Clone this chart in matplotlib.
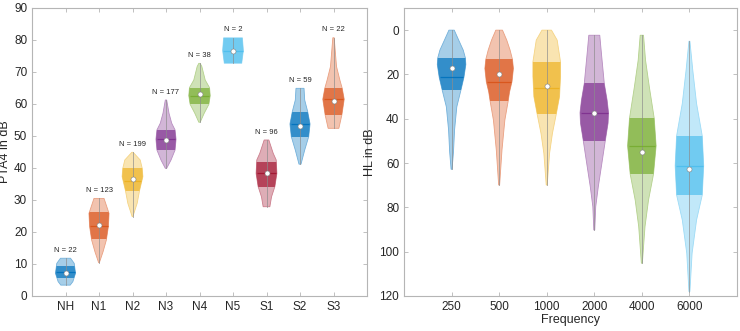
import numpy as np
import matplotlib
matplotlib.use("Agg")
import matplotlib.pyplot as plt
from matplotlib.patches import Polygon, Rectangle

plt.rcParams['font.family'] = ['Liberation Sans', 'DejaVu Sans']

# matlab default colour order
c_blue = '#0072BD'
c_orange = '#D95319'
c_yellow = '#EDB120'
c_purple = '#7E2F8E'
c_green = '#77AC30'
c_lblue = '#4DBEEE'
c_red = '#A2142F'

# ---- left panel: PTA4 per group ----
groups = ['NH', 'N1', 'N2', 'N3', 'N4', 'N5', 'S1', 'S2', 'S3']
group_n = [22, 123, 199, 177, 38, 2, 96, 59, 22]
group_colors = [c_blue, c_orange, c_yellow, c_purple, c_green, c_lblue, c_red, c_blue, c_orange]
group_q1 = [5.5, 17.8, 32.9, 45.6, 59.9, 72.7, 34.2, 49.8, 56.6]
group_median = [7.5, 21.9, 36.0, 49.0, 62.6, 76.7, 38.3, 53.75, 61.5]
group_q3 = [9.4, 26.2, 39.9, 51.9, 65.1, 80.7, 42.0, 57.6, 64.9]
group_mean = [7.1, 22.3, 36.7, 48.7, 63.1, 76.6, 38.3, 53.1, 61.0]
# violin outlines: levels (dB) and half widths
group_levels = [
    [3.4, 4.5, 7.1, 10.2, 11.8],
    [10.4, 13.8, 17.5, 21.7, 25.8, 30.5],
    [24.8, 29.0, 32.9, 37.3, 39.9, 42.5, 44.9],
    [39.9, 42.5, 45.6, 49.0, 51.9, 54.0, 57.1, 61.25],
    [54.3, 57.1, 59.9, 62.6, 65.1, 67.5, 71.7, 72.7],
    [72.7, 76.7, 80.7],
    [27.9, 31.0, 34.2, 38.3, 42.5, 44.6, 48.75],
    [41.2, 45.6, 49.8, 53.75, 57.6, 61.25, 64.9],
    [52.4, 56.6, 61.5, 64.9, 67.5, 71.7, 80.7],
]
group_widths = [
    [0.14, 0.22, 0.30, 0.26, 0.15],
    [0.01, 0.12, 0.22, 0.28, 0.30, 0.15],
    [0.01, 0.14, 0.21, 0.31, 0.29, 0.23, 0.02],
    [0.02, 0.15, 0.27, 0.30, 0.27, 0.17, 0.09, 0.02],
    [0.02, 0.14, 0.28, 0.32, 0.30, 0.17, 0.07, 0.02],
    [0.26, 0.31, 0.28],
    [0.10, 0.15, 0.25, 0.31, 0.29, 0.20, 0.07],
    [0.03, 0.14, 0.26, 0.30, 0.23, 0.14, 0.12],
    [0.16, 0.25, 0.32, 0.26, 0.19, 0.09, 0.02],
]

# ---- right panel: HL per frequency ----
freqs = ['250', '500', '1000', '2000', '4000', '6000']
freq_colors = [c_blue, c_orange, c_yellow, c_purple, c_green, c_lblue]
freq_q1 = [12.5, 13.2, 14.3, 24.0, 39.8, 47.8]
freq_median = [21.3, 23.3, 25.9, 37.3, 52.2, 61.2]
freq_q3 = [26.8, 32.0, 38.0, 50.1, 65.0, 74.4]
freq_mean = [17.3, 19.8, 25.0, 37.6, 55.2, 62.6]
freq_levels = [
    [0, 4.5, 9.0, 12.5, 15.5, 21.3, 26.8, 34.6, 45.0, 55.0, 62.8],
    [0, 4.5, 9.0, 13.2, 17.3, 23.3, 27.8, 32.0, 40.6, 54.0, 69.9],
    [0, 4.5, 14.3, 21.0, 30.0, 38.0, 46.6, 55.6, 69.9],
    [2.3, 10.5, 24.0, 31.6, 37.3, 42.0, 50.1, 58.6, 70.7, 79.7, 90.2],
    [2.3, 13.5, 25.6, 39.8, 52.2, 65.0, 76.7, 88.7, 105.2],
    [5.0, 18.0, 33.1, 47.8, 61.2, 74.4, 85.7, 100.7, 118.0],
]
freq_widths = [
    [0.056, 0.15, 0.245, 0.29, 0.30, 0.26, 0.20, 0.11, 0.063, 0.04, 0.01],
    [0.07, 0.16, 0.23, 0.28, 0.30, 0.27, 0.22, 0.19, 0.12, 0.06, 0.01],
    [0.10, 0.22, 0.29, 0.29, 0.27, 0.20, 0.12, 0.06, 0.01],
    [0.115, 0.15, 0.21, 0.27, 0.30, 0.29, 0.23, 0.17, 0.084, 0.03, 0.01],
    [0.035, 0.077, 0.157, 0.26, 0.30, 0.245, 0.14, 0.066, 0.01],
    [0.01, 0.07, 0.15, 0.27, 0.30, 0.27, 0.15, 0.056, 0.01],
]


def light(col, a):
    rgb = np.array(matplotlib.colors.to_rgb(col))
    return tuple(1 - a * (1 - rgb))


def violin(ax, pos, levels, widths, q1, med, q3, mean, col):
    lv = np.array(levels, dtype=float)
    hw = np.array(widths, dtype=float)
    verts = np.vstack([np.column_stack([pos + hw, lv]),
                       np.column_stack([pos - hw[::-1], lv[::-1]])])
    ax.add_patch(Polygon(verts, closed=True, facecolor=light(col, 0.35),
                         edgecolor=light(col, 0.55), lw=0.6, zorder=2))
    inner = Polygon(verts, closed=True, facecolor=light(col, 0.8),
                    edgecolor='none', zorder=3)
    ax.add_patch(inner)
    clip = Rectangle((pos - 1, q1), 2, q3 - q1, transform=ax.transData)
    inner.set_clip_path(clip)
    # whisker line over the full range
    ax.plot([pos, pos], [lv.min(), lv.max()], color=(0.55, 0.55, 0.55),
            lw=0.6, alpha=0.8, zorder=4)
    m = np.interp(med, lv, hw) * 0.93
    ax.plot([pos - m, pos + m], [med, med], color=light(col, 1.0), lw=0.9,
            alpha=0.9, zorder=4, solid_capstyle='butt')
    ax.plot(pos, mean, 'o', ms=3.6, mfc='white', mec=(0.5, 0.5, 0.5),
            mew=0.4, zorder=5)


def style(ax):
    for s in ax.spines.values():
        s.set_color('#b5b5b5')
        s.set_linewidth(0.8)
    ax.tick_params(direction='in', length=3, width=0.6, color='#b5b5b5',
                   labelcolor='#262626', labelsize=8.5, top=True, right=True)


fig = plt.figure(figsize=(7.4, 3.31), dpi=100)
ax1 = fig.add_axes([32 / 740, 35 / 331, 335 / 740, 288 / 331])
ax2 = fig.add_axes([404 / 740, 35 / 331, 333 / 740, 288 / 331])

for i in range(len(groups)):
    violin(ax1, i + 1, group_levels[i], group_widths[i], group_q1[i],
           group_median[i], group_q3[i], group_mean[i], group_colors[i])
    ax1.text(i + 1, max(group_levels[i]) + 1.4, 'N = %d' % group_n[i],
             ha='center', va='bottom', fontsize=5.5, color='#262626')
ax1.set_xlim(0, 10)
ax1.set_ylim(0, 90)
ax1.set_xticks(range(1, len(groups) + 1))
ax1.set_xticklabels(groups)
ax1.set_yticks(range(0, 91, 10))
ax1.set_ylabel('PTA4 in dB', fontsize=9, color='#262626', labelpad=2)
style(ax1)

for i in range(len(freqs)):
    violin(ax2, i + 1, freq_levels[i], freq_widths[i], freq_q1[i],
           freq_median[i], freq_q3[i], freq_mean[i], freq_colors[i])
ax2.set_xlim(0, 7)
ax2.set_ylim(120, -10)
ax2.set_xticks(range(1, len(freqs) + 1))
ax2.set_xticklabels(freqs)
ax2.set_yticks(range(0, 121, 20))
ax2.set_ylabel('HL in dB', fontsize=9, color='#262626', labelpad=2)
ax2.set_xlabel('Frequency', fontsize=9, color='#262626', labelpad=1)
style(ax2)

fig.savefig('out.png', dpi=100)
